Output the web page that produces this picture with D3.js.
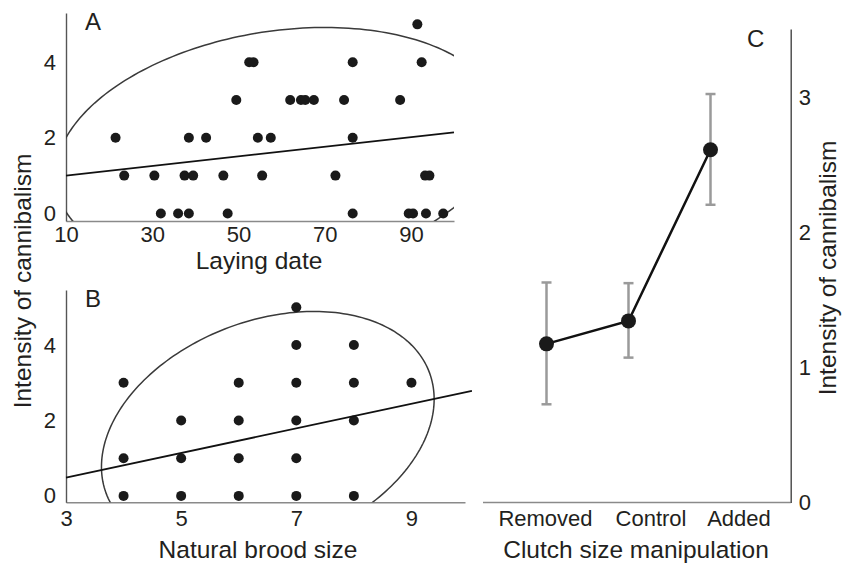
<!DOCTYPE html>
<html>
<head>
<meta charset="utf-8">
<script src="https://cdn.jsdelivr.net/npm/d3@7"></script>
<style>
  html, body { margin: 0; padding: 0; background: #fff; }
  svg { display: block; font-family: "Liberation Sans", Arial, Helvetica, sans-serif; }
</style>
</head>
<body>
<svg id="chart" width="842" height="565"></svg>
<script>
// ---------------- DATA ----------------
// Panel A: laying date vs intensity of cannibalism
const layDate   = [91.5, 52.5, 53.5, 76.5, 92.5,
                   49.5, 62, 64.5, 65.5, 67.5, 74.5, 87.5,
                   21.5, 38.5, 42.5, 54.5, 57.5, 76.5,
                   23.5, 30.5, 37.5, 39.5, 46.5, 55.5, 72.5, 93.3, 94.3,
                   32, 36, 38.5, 47.5, 76.5, 89.5, 90.5, 93.5, 97.5];
const cannibalA = [5, 4, 4, 4, 4,
                   3, 3, 3, 3, 3, 3, 3,
                   2, 2, 2, 2, 2, 2,
                   1, 1, 1, 1, 1, 1, 1, 1, 1,
                   0, 0, 0, 0, 0, 0, 0, 0, 0];
const fitAx = [10, 100];
const fitAy = [1.0, 2.143];
// ellipse A: centre, conjugate semi-diameters u, v (data units)
const ellA_centre = [59.5, 1.65];
const ellA_u = [52.0, 0.66];
const ellA_v = [0, 3.20];
const ticksAx = [10, 30, 50, 70, 90];
const ticksAy = [0, 2, 4];

// Panel B: natural brood size vs intensity of cannibalism
const broodSize = [4, 4, 4, 5, 5, 5, 6, 6, 6, 6, 7, 7, 7, 7, 7, 7, 8, 8, 8, 8, 9];
const cannibalB = [0, 1, 3, 0, 1, 2, 0, 1, 2, 3, 0, 1, 2, 3, 4, 5, 0, 2, 3, 4, 3];
const fitBx = [3, 10.05];
const fitBy = [0.485, 2.785];
const ellB_centre = [6.505, 1.668];
const ellB_u = [2.889, 0.897];
const ellB_v = [0, 3.095];
const ticksBx = [3, 5, 7, 9];
const ticksBy = [0, 2, 4];

// Panel C: clutch size manipulation
const treatments = ["Removed", "Control", "Added"];
const meanC  = [1.176, 1.346, 2.615];
const upperC = [1.631, 1.626, 3.028];
const lowerC = [0.728, 1.074, 2.207];
const ticksCy = [0, 1, 2, 3];

// ---------------- DRAWING ----------------
const svg = d3.select("#chart");
const textCol = "#231f20";
const dotCol = "#1a1a1a";
const tickFont = 22, titleFont = 24.5;
const fmt = d3.format("d");

function ellipsePts(c, u, v) {
  return d3.range(0, 361, 1.5).map(deg => {
    const t = deg * Math.PI / 180;
    return [c[0] + u[0] * Math.cos(t) + v[0] * Math.sin(t),
            c[1] + u[1] * Math.cos(t) + v[1] * Math.sin(t)];
  });
}

function styleTicks(sel) {
  sel.selectAll("text").attr("font-size", tickFont).attr("fill", textCol)
    .attr("font-family", "Liberation Sans, Arial, sans-serif");
}

function scatterPanel(opt) {
  const { id, x, y, xs, ys, fx, fy, ec, eu, ev, tx, ty, letter, title, titleX, titleY, xPad } = opt;
  const g = svg.append("g");
  const [x0, x1] = x.range();
  const [yb, yt] = y.range();

  svg.append("clipPath").attr("id", "clip" + id)
    .append("rect").attr("x", x0).attr("y", yt - 40).attr("width", x1 - x0).attr("height", yb - yt + 40);

  // x axis
  const ax = g.append("g").attr("transform", `translate(0,${yb})`)
    .call(d3.axisBottom(x).tickValues(tx).tickFormat(fmt).tickSize(0).tickPadding(xPad).tickSizeOuter(0));
  ax.select(".domain").attr("stroke", "#8a8a8a").attr("stroke-width", 1.6);
  styleTicks(ax);

  // y axis
  const ay = g.append("g").attr("transform", `translate(${x0},0)`)
    .call(d3.axisLeft(y).tickValues(ty).tickFormat(fmt).tickSize(0).tickPadding(10).tickSizeOuter(0));
  ay.select(".domain").attr("stroke", "#555").attr("stroke-width", 1.4);
  styleTicks(ay);

  // ellipse
  g.append("path")
    .attr("clip-path", `url(#clip${id})`)
    .attr("d", d3.line().x(d => x(d[0])).y(d => y(d[1])).curve(d3.curveLinearClosed)(ellipsePts(ec, eu, ev)))
    .attr("fill", "none").attr("stroke", "#3a3a3a").attr("stroke-width", 1.5);

  // dots
  g.selectAll("circle.dot").data(xs.map((d, i) => [d, ys[i]])).join("circle")
    .attr("class", "dot")
    .attr("cx", d => x(d[0])).attr("cy", d => y(d[1])).attr("r", 5)
    .attr("fill", dotCol);

  // linear fit
  g.append("path")
    .attr("d", d3.line().x(d => x(d[0])).y(d => y(d[1]))(fx.map((d, i) => [d, fy[i]])))
    .attr("fill", "none").attr("stroke", "#111").attr("stroke-width", 1.8);

  // letter
  g.append("text").attr("x", x0 + 19).attr("y", yt + 17).text(letter)
    .attr("font-size", 24).attr("fill", textCol);

  // x title
  g.append("text").attr("x", titleX).attr("y", titleY).attr("text-anchor", "middle")
    .text(title).attr("font-size", titleFont).attr("fill", textCol);
}

// Panel A
const xA = d3.scaleLinear().domain([10, 100]).range([66, 454]);
const yA = d3.scaleLinear().domain([-0.2, 5.3]).range([221, 13]);
scatterPanel({ id: "A", x: xA, y: yA, xs: layDate, ys: cannibalA, fx: fitAx, fy: fitAy,
  ec: ellA_centre, eu: ellA_u, ev: ellA_v, tx: ticksAx, ty: ticksAy,
  letter: "A", title: "Laying date", titleX: 259, titleY: 269, xPad: 5 });

// Panel B
const xB = d3.scaleLinear().domain([3, 9.93]).range([66, 465]);
const yB = d3.scaleLinear().domain([-0.17, 5.46]).range([502.3, 290]);
scatterPanel({ id: "B", x: xB, y: yB, xs: broodSize, ys: cannibalB, fx: fitBx, fy: fitBy,
  ec: ellB_centre, eu: ellB_u, ev: ellB_v, tx: ticksBx, ty: ticksBy,
  letter: "B", title: "Natural brood size", titleX: 258, titleY: 558, xPad: 8 });

// shared left title
svg.append("text")
  .attr("transform", "translate(31,281) rotate(-90)")
  .attr("text-anchor", "middle").attr("font-size", titleFont).attr("fill", textCol)
  .text("Intensity of cannibalism");

// Panel C
const yC = d3.scaleLinear().domain([0, 3.51]).range([502.5, 29]);
const xC = d3.scalePoint().domain(treatments).range([546.5, 710.5]);
const xCLab = d3.scaleOrdinal().domain(treatments).range([545, 650.5, 738.5]);
const axisXC = 790.7;
const gC = svg.append("g");

// x axis line + category labels
gC.append("line").attr("x1", 483).attr("x2", axisXC).attr("y1", yC(0)).attr("y2", yC(0))
  .attr("stroke", "#8a8a8a").attr("stroke-width", 1.6);
const axC = gC.append("g").attr("transform", `translate(0,${yC(0)})`)
  .call(d3.axisBottom(xCLab).tickSize(0).tickPadding(8));
axC.select(".domain").remove();
styleTicks(axC);

// y axis on the right
const ayC = gC.append("g").attr("transform", `translate(${axisXC},0)`)
  .call(d3.axisRight(yC).tickValues(ticksCy).tickFormat(fmt).tickSize(0).tickPadding(8).tickSizeOuter(0));
ayC.select(".domain").attr("stroke", "#444").attr("stroke-width", 1.4);
styleTicks(ayC);

// error bars
const cData = treatments.map((t, i) => ({ t, m: meanC[i], lo: lowerC[i], hi: upperC[i] }));
const eb = gC.selectAll("g.eb").data(cData).join("g").attr("class", "eb")
  .attr("stroke", "#9a9a9a").attr("stroke-width", 2.5);
eb.append("line").attr("x1", d => xC(d.t)).attr("x2", d => xC(d.t))
  .attr("y1", d => yC(d.lo)).attr("y2", d => yC(d.hi));
eb.append("line").attr("x1", d => xC(d.t) - 5).attr("x2", d => xC(d.t) + 5)
  .attr("y1", d => yC(d.hi)).attr("y2", d => yC(d.hi));
eb.append("line").attr("x1", d => xC(d.t) - 5).attr("x2", d => xC(d.t) + 5)
  .attr("y1", d => yC(d.lo)).attr("y2", d => yC(d.lo));

// connecting line
gC.append("path")
  .attr("d", d3.line().x(d => xC(d.t)).y(d => yC(d.m))(cData))
  .attr("fill", "none").attr("stroke", "#111").attr("stroke-width", 2.5);

// points
gC.selectAll("circle.mean").data(cData).join("circle").attr("class", "mean")
  .attr("cx", d => xC(d.t)).attr("cy", d => yC(d.m)).attr("r", 7.5).attr("fill", dotCol);

// letter C
gC.append("text").attr("x", 747).attr("y", 47).text("C").attr("font-size", 24).attr("fill", textCol);

// x title
gC.append("text").attr("x", 636).attr("y", 558).attr("text-anchor", "middle")
  .attr("font-size", titleFont).attr("fill", textCol).text("Clutch size manipulation");

// right title
gC.append("text")
  .attr("transform", "translate(836,268) rotate(-90)")
  .attr("text-anchor", "middle").attr("font-size", titleFont).attr("fill", textCol)
  .text("Intensity of cannibalism");
</script>
</body>
</html>
